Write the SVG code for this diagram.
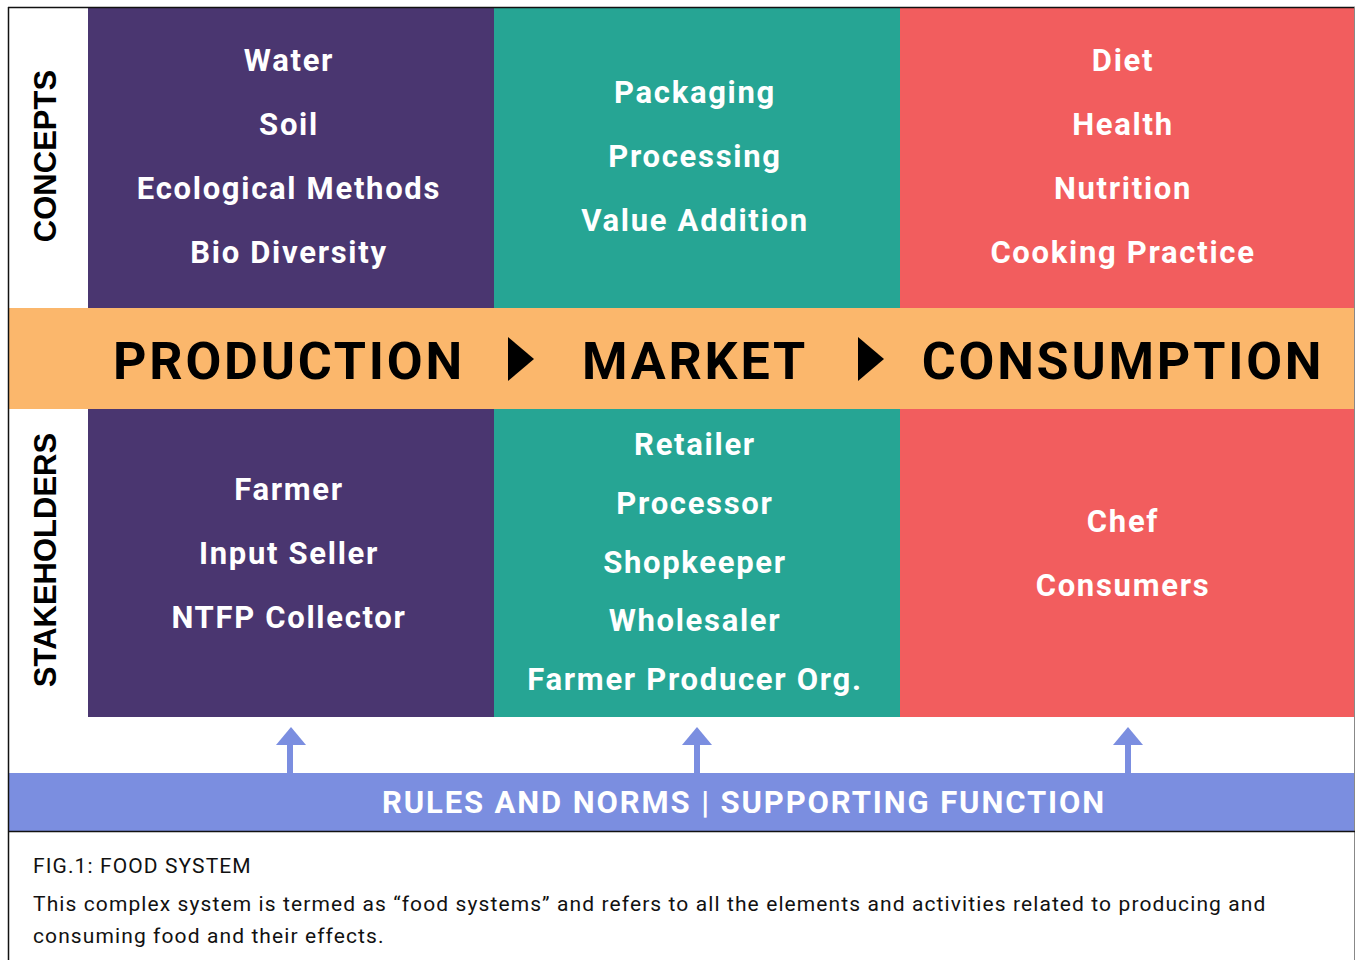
<svg xmlns="http://www.w3.org/2000/svg" width="1355" height="960" viewBox="0 0 1355 960">
<style>
.w{font-family:Roboto,"Liberation Sans",sans-serif;font-weight:700;fill:#fff;font-size:31px;letter-spacing:1.7px;text-anchor:middle}
.band{font-family:Roboto,"Liberation Sans",sans-serif;font-weight:700;fill:#000;font-size:52px;letter-spacing:2.8px;text-anchor:middle}
.side{font-family:"Liberation Sans",Arial,sans-serif;font-weight:700;fill:#000;font-size:31px;text-anchor:middle}
.cap{font-family:Roboto,"Liberation Sans",sans-serif;fill:#111;font-size:21px;letter-spacing:1.1px}
.arr{fill:#7b8ee0}
</style>
<rect x="0" y="0" width="1355" height="960" fill="#fff"/>
<g id="row-concepts">
<g id="concepts-label"><text class="side" transform="translate(56,156) rotate(-90)">CONCEPTS</text></g>
<g id="production-concepts"><rect x="88" y="8" width="406" height="300" fill="#4a3670"/>
<text class="w" x="289" y="71">Water</text><text class="w" x="289" y="135">Soil</text><text class="w" x="289" y="199">Ecological Methods</text><text class="w" x="289" y="263">Bio Diversity</text></g>
<g id="market-concepts"><rect x="494" y="8" width="406" height="300" fill="#26a594"/>
<text class="w" x="695" y="103">Packaging</text><text class="w" x="695" y="167">Processing</text><text class="w" x="695" y="231">Value Addition</text></g>
<g id="consumption-concepts"><rect x="900" y="8" width="455" height="300" fill="#f25d5e"/>
<text class="w" x="1123" y="71">Diet</text><text class="w" x="1123" y="135">Health</text><text class="w" x="1123" y="199">Nutrition</text><text class="w" x="1123" y="263">Cooking Practice</text></g>
</g>
<g id="band">
<rect x="9" y="308" width="1346" height="101" fill="#fbb76c"/>
<text class="band" x="289" y="379">PRODUCTION</text>
<polygon points="508,337 534,359 508,381" fill="#000"/>
<text class="band" x="695" y="379">MARKET</text>
<polygon points="858,337 884,359 858,381" fill="#000"/>
<text class="band" x="1123" y="379">CONSUMPTION</text>
</g>
<g id="row-stakeholders">
<g id="stakeholders-label"><text class="side" transform="translate(56,560) rotate(-90)">STAKEHOLDERS</text></g>
<g id="production-stakeholders"><rect x="88" y="409" width="406" height="308" fill="#4a3670"/>
<text class="w" x="289" y="500">Farmer</text><text class="w" x="289" y="564">Input Seller</text><text class="w" x="289" y="628">NTFP Collector</text></g>
<g id="market-stakeholders"><rect x="494" y="409" width="406" height="308" fill="#26a594"/>
<text class="w" x="695" y="455">Retailer</text><text class="w" x="695" y="514">Processor</text><text class="w" x="695" y="573">Shopkeeper</text><text class="w" x="695" y="631">Wholesaler</text><text class="w" x="695" y="690">Farmer Producer Org.</text></g>
<g id="consumption-stakeholders"><rect x="900" y="409" width="455" height="308" fill="#f25d5e"/>
<text class="w" x="1123" y="532">Chef</text><text class="w" x="1123" y="596">Consumers</text></g>
</g>
<g id="connectors">
<rect class="arr" x="287" y="744" width="6" height="30"/><polygon class="arr" points="276,745 291,727 306,745"/>
<rect class="arr" x="694" y="744" width="6" height="30"/><polygon class="arr" points="682,745 697,727 712,745"/>
<rect class="arr" x="1125" y="744" width="6" height="30"/><polygon class="arr" points="1113,745 1128,727 1143,745"/>
</g>
<g id="rules">
<rect x="9" y="773" width="1346" height="58" fill="#7b8ee0"/>
<text class="w" x="744" y="813" style="letter-spacing:1.9px">RULES AND NORMS | SUPPORTING FUNCTION</text>
</g>
<g id="frame" fill="none">
<line x1="8" y1="7.5" x2="1355" y2="7.5" stroke="#111" stroke-width="1.5"/>
<line x1="8.5" y1="7" x2="8.5" y2="960" stroke="#111" stroke-width="1.5"/>
<line x1="1354.5" y1="7" x2="1354.5" y2="960" stroke="#888" stroke-width="1"/>
<line x1="8" y1="831.5" x2="1355" y2="831.5" stroke="#111" stroke-width="1.5"/>
</g>
<g id="caption">
<text class="cap" x="33" y="873">FIG.1: FOOD SYSTEM</text>
<text class="cap" x="33" y="911">This complex system is termed as “food systems” and refers to all the elements and activities related to producing and</text>
<text class="cap" x="33" y="943">consuming food and their effects.</text>
</g>
</svg>
